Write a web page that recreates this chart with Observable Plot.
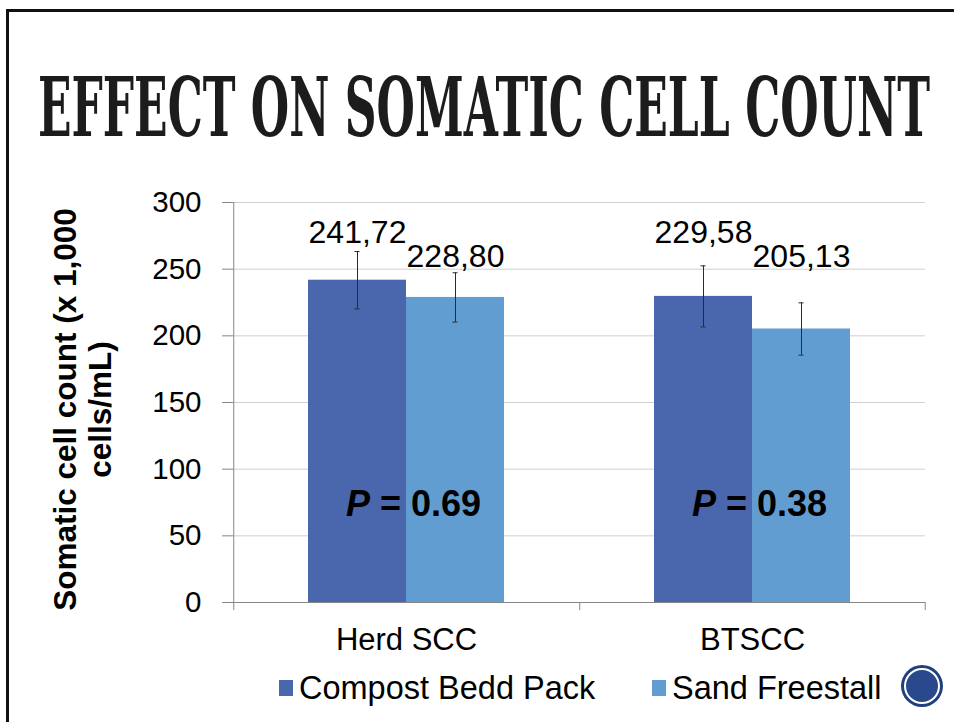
<!DOCTYPE html>
<html>
<head>
<meta charset="utf-8">
<script src="https://cdn.jsdelivr.net/npm/d3@7"></script>
<script src="https://cdn.jsdelivr.net/npm/@observablehq/plot@0.6"></script>
<style>
html, body { margin: 0; padding: 0; background: #fff; overflow: hidden; }
#slide { position: relative; width: 954px; height: 722px; overflow: hidden; font-family: "Liberation Sans", Arial, sans-serif; }
#chart { position: absolute; left: 0; top: 0; }
#title { position: absolute; left: 0; top: 0; }
#border { position: absolute; left: 6px; top: 9px; width: 1100px; height: 900px; border: 3px solid #111; box-sizing: border-box; pointer-events: none; }
#legend { position: absolute; left: 0; top: 668px; width: 954px; height: 40px; }
.item { position: absolute; top: 0; height: 40px; display: flex; align-items: center; font-size: 32.5px; color: #000; white-space: nowrap; }
.sw { width: 14px; height: 16px; margin-right: 6px; }
#icon { position: absolute; left: 0; top: 0; pointer-events: none; }
</style>
</head>
<body>
<div id="slide">
  <div id="chart"></div>
  <svg id="title" width="954" height="160">
    <text transform="translate(38,136) scale(1,1.95)" x="0" y="0" textLength="892" lengthAdjust="spacingAndGlyphs" font-family="DejaVu Serif" font-weight="bold" font-size="42" fill="#1c1c1c">EFFECT ON SOMATIC CELL COUNT</text>
  </svg>
  <div id="border"></div>
  <div id="legend"></div>
  <svg id="icon" width="954" height="722">
    <circle cx="922" cy="686" r="21" fill="#1f3f7f"></circle>
    <circle cx="922" cy="686" r="17" fill="#29498c" stroke="#ffffff" stroke-width="2"></circle>
  </svg>
</div>
<script>
// ---- data ----
const categories = ["Herd SCC", "BTSCC"];
const series = ["Compost Bedd Pack", "Sand Freestall"];
const compostValues = [241.72, 229.58];
const sandValues = [228.80, 205.13];
const compostErr = [21.5, 22.9];
const sandErr = [18.5, 19.6];
const pValues = ["0.69", "0.38"];
const yTicks = [0, 50, 100, 150, 200, 250, 300];
const yTitle = "Somatic cell count (x 1,000\ncells/mL)";
const colors = ["#4a66ac", "#629dd1"];

// ---- layout ----
const W = 954, H = 722, ML = 232, MR = 29, MT = 202, MB = 120;
const padOuter = 0.75;
const facetW = (W - ML - MR) / categories.length;
const step = facetW / (series.length + 2 * padOuter);
const edgeDx = step / 2 + padOuter * step;
const yMax = yTicks[yTicks.length - 1];

const rows = categories.flatMap((c, i) => [
  {category: c, series: series[0], value: compostValues[i], err: compostErr[i]},
  {category: c, series: series[1], value: sandValues[i], err: sandErr[i]}
]);
const pRows = categories.map((c, i) => ({category: c, p: pValues[i]}));
const labelY = {[series[0]]: 270, [series[1]]: 252};
const pY = 65;

// category boundaries (left edge of each band, plus right edge of last)
const leftEdges = categories.map((c, i) => ({category: c, top: i === 0 ? yMax : 0}));
const rightEdge = [{category: categories[categories.length - 1], top: 0}];

const fmt = v => v.toFixed(2).replace(".", ",");

const chart = Plot.plot({
  width: W, height: H,
  marginLeft: ML, marginRight: MR, marginTop: MT, marginBottom: MB,
  style: {fontFamily: "Liberation Sans, Arial, sans-serif", fontSize: "30px", background: "transparent", color: "#000", overflow: "visible"},
  fx: {domain: categories, padding: 0, label: null},
  x: {domain: series, paddingInner: 0, paddingOuter: padOuter, axis: null},
  y: {domain: [0, yMax], axis: null},
  color: {domain: series, range: colors},
  marks: [
    Plot.gridY(yTicks, {stroke: "#cfcfcf", strokeOpacity: 1, strokeWidth: 1}),
    Plot.barY(rows, {fx: "category", x: "series", y: "value", fill: "series"}),
    Plot.ruleX(rows, {fx: "category", x: "series", y1: d => d.value - d.err, y2: d => d.value + d.err, stroke: "#2b2b2b", strokeWidth: 1}),
    Plot.tickY(rows, {fx: "category", x: "series", y: d => d.value + d.err, stroke: "#2b2b2b", strokeWidth: 1, insetLeft: step / 2 - 3, insetRight: step / 2 - 3}),
    Plot.tickY(rows, {fx: "category", x: "series", y: d => d.value - d.err, stroke: "#2b2b2b", strokeWidth: 1, insetLeft: step / 2 - 3, insetRight: step / 2 - 3}),
    Plot.ruleY([0], {stroke: "#868686", strokeWidth: 1}),
    Plot.ruleX(leftEdges, {fx: "category", x: () => series[0], y1: "top", y2: () => 0, dx: -edgeDx, insetBottom: -8, stroke: "#868686", strokeWidth: 1}),
    Plot.ruleX(rightEdge, {fx: "category", x: () => series[series.length - 1], y1: "top", y2: () => 0, dx: edgeDx, insetBottom: -8, stroke: "#868686", strokeWidth: 1}),
    Plot.axisY(yTicks, {tickSize: 11, tickPadding: 21, fontSize: 29.5, stroke: "#868686", fill: "#000", label: null}),
    Plot.axisFx({anchor: "bottom", tickSize: 0, tickPadding: 25, fontSize: 31, fill: "#000", label: null}),
    Plot.text(rows, {fx: "category", x: "series", y: d => labelY[d.series], text: d => fmt(d.value), lineAnchor: "bottom", fontSize: 32, fill: "#000"}),
    Plot.text(pRows, {fx: "category", y: () => pY, text: d => `P = ${d.p}`, frameAnchor: "middle", lineAnchor: "bottom", dx: 7, fontSize: 36, fontWeight: "bold", fill: "#000"}),
    Plot.text([categories[0]], {fx: d => d, frameAnchor: "left", textAnchor: "middle", lineAnchor: "middle", rotate: -90, dx: -151, dy: 7, text: () => yTitle, lineHeight: 1.1, fontSize: 31.5, fontWeight: "bold", fill: "#000"})
  ]
});

// italic "P" in the P-value annotations
chart.querySelectorAll("text").forEach(t => {
  const s = t.textContent;
  if (t.children.length === 0 && s.startsWith("P = ")) {
    t.textContent = "";
    const ns = "http://www.w3.org/2000/svg";
    const a = document.createElementNS(ns, "tspan");
    a.setAttribute("font-style", "italic");
    a.textContent = "P";
    t.appendChild(a);
    t.appendChild(document.createTextNode(s.slice(1)));
  }
});

document.getElementById("chart").appendChild(chart);

// legend
const legend = document.getElementById("legend");
const legendX = [279, 652];
series.forEach((s, i) => {
  const item = document.createElement("div");
  item.className = "item";
  item.style.left = legendX[i] + "px";
  const sw = document.createElement("span");
  sw.className = "sw";
  sw.style.background = colors[i];
  const label = document.createElement("span");
  label.textContent = s;
  item.appendChild(sw);
  item.appendChild(label);
  legend.appendChild(item);
});
</script>
</body>
</html>
